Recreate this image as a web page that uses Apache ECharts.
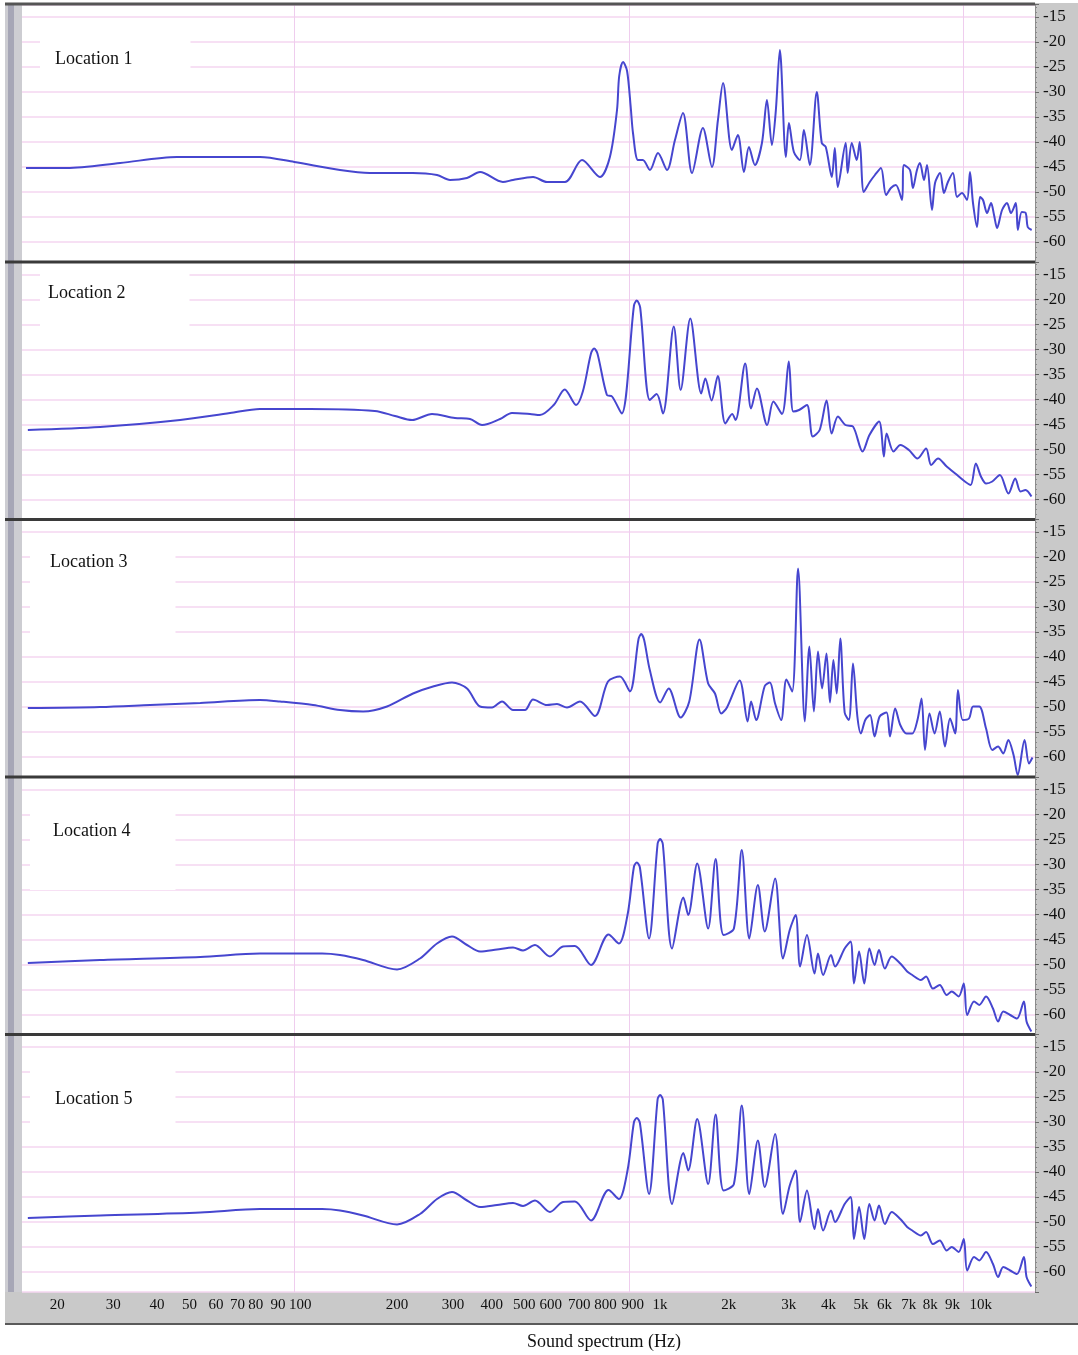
<!DOCTYPE html>
<html><head><meta charset="utf-8">
<script src="https://cdn.jsdelivr.net/npm/echarts@6/dist/echarts.min.js"></script>
<style>html,body{margin:0;padding:0;background:#fff}#c{width:1078px;height:1355px}</style>
</head><body><div id="c"></div>
<script>
// ---------------- DATA (frequency in Hz, level in dB) ----------------
const LOC1_FREQ=[15.8,20.9,30.2,44.6,79.0,100,137,168,226,267,292,328,359,420,450,517,569,644,724,819,877,921,935,960,987,1012,1028,1064,1100,1155,1221,1299,1372,1450,1543,1663,1770,1844,1910,2030,2115,2205,2282,2378,2496,2583,2673,2747,2823,2943,3005,3109,3240,3330,3469,3640,3767,3872,4035,4120,4205,4440,4500,4630,4790,4890,5030,5240,5430,5660,5860,6060,6270,6540,6630,6910,7050,7250,7400,7610,7770,8040,8210,8500,8730,8970,9290,9550,9880,10230,10440,10660,10960,11190,11420,11740,12070,12320,12580,13020,13470,13840,14310,14510,14910,15320,15530,15960];
const LOC1_DB=[-45.2,-45.2,-44.2,-43.0,-43.0,-44.0,-45.6,-46.2,-46.2,-46.6,-47.6,-47.2,-46.0,-48.0,-47.6,-47.0,-48.0,-48.0,-43.6,-47.0,-43.0,-33.6,-26.8,-24.0,-25.8,-33.0,-38.2,-43.6,-43.6,-45.6,-42.2,-45.6,-39.6,-34.2,-46.2,-37.2,-45.0,-35.6,-28.2,-41.6,-38.6,-46.0,-41.0,-44.6,-40.2,-31.6,-40.6,-33.6,-21.6,-43.0,-36.2,-42.0,-43.6,-37.6,-44.6,-30.0,-40.2,-41.0,-47.0,-41.2,-49.0,-40.2,-46.2,-40.2,-43.6,-40.0,-50.0,-48.0,-46.6,-45.2,-50.6,-49.2,-48.6,-51.6,-44.6,-45.6,-49.2,-45.6,-44.2,-47.6,-44.6,-53.6,-48.2,-46.2,-50.2,-48.0,-46.2,-51.0,-50.2,-51.6,-46.0,-52.2,-57.0,-51.0,-51.6,-54.2,-52.2,-54.6,-57.2,-53.6,-52.2,-54.2,-52.2,-57.6,-54.0,-54.2,-57.0,-57.6];

const LOC2_FREQ=[16.0,26.3,45.6,64.3,79.0,111.5,174,200,225,258,302,335,364,412,447,506,542,596,643,695,728,770,787,805,859,890,951,1035,1055,1080,1154,1210,1263,1361,1427,1525,1644,1691,1765,1842,1940,2034,2082,2224,2316,2411,2587,2700,2865,3002,3096,3222,3402,3541,3713,3893,4032,4208,4431,4669,4987,5229,5587,5774,5882,6169,6468,6858,7275,7719,7994,8383,8894,9435,10080,10490,10872,11260,11670,12171,12823,13604,14257,14776,15303,15936];
const LOC2_DB=[-46.1,-45.5,-44.1,-42.7,-41.9,-41.9,-42.3,-43.3,-44.1,-42.9,-43.7,-43.9,-45.1,-43.9,-42.7,-42.9,-43.1,-41.1,-38.0,-41.1,-38.4,-30.8,-29.8,-30.8,-39.1,-39.4,-42.8,-21.2,-20.2,-21.6,-40.1,-38.9,-42.8,-25.4,-38.1,-23.8,-38.8,-35.8,-40.2,-35.3,-44.8,-42.9,-44.1,-32.8,-41.8,-37.8,-45.1,-40.4,-42.9,-32.4,-42.4,-42.1,-41.1,-47.4,-46.1,-40.2,-46.8,-43.4,-45.1,-45.4,-50.4,-47.1,-44.4,-51.4,-46.8,-50.4,-49.1,-50.1,-51.8,-49.8,-53.1,-51.8,-53.4,-54.8,-56.4,-57.1,-52.8,-55.4,-56.8,-56.4,-55.1,-58.8,-55.8,-58.4,-58.1,-59.4];

const LOC3_FREQ=[16.0,26.3,37.1,52.4,79.0,90.7,113.8,137,160.6,189.3,226.4,259.8,296,328.2,358.9,389.8,417.5,450.4,489,516.8,569,609.5,652.9,713.9,791.5,865.6,940,1006,1068,1088,1110,1154,1239,1314,1427,1514,1625,1724,1807,1886,1962,2141,2261,2316,2399,2545,2636,2732,2849,2953,3073,3200,3353,3459,3568,3670,3775,3891,3985,4080,4176,4278,4409,4538,4669,4812,4929,5081,5251,5416,5609,5882,6021,6241,6464,6745,7020,7275,7484,7661,7901,8183,8481,8790,9104,9429,9612,9936,10368,10666,11129,11661,12171,12666,13126,13594,14090,14496,15199,15665,16047];
const LOC3_DB=[-50.2,-50.0,-49.6,-49.2,-48.6,-48.9,-49.6,-50.6,-50.9,-49.9,-47.3,-45.9,-45.1,-46.3,-49.9,-50.1,-48.9,-50.6,-50.6,-48.5,-49.6,-49.4,-50.1,-48.9,-51.8,-44.9,-43.9,-46.9,-36.4,-35.4,-36.6,-42.6,-49.1,-46.3,-52.1,-48.9,-36.5,-45.3,-47.3,-51.3,-50.1,-44.7,-52.9,-48.9,-52.6,-45.8,-45.1,-49.3,-52.6,-44.5,-46.9,-22.3,-52.9,-37.9,-50.9,-38.9,-46.3,-39.3,-49.1,-40.6,-47.3,-36.3,-51.1,-52.6,-41.3,-51.9,-55.3,-52.6,-51.6,-55.9,-51.9,-51.1,-55.9,-50.3,-53.6,-55.3,-55.3,-52.6,-48.3,-58.6,-51.3,-55.3,-50.9,-57.9,-52.3,-55.3,-46.6,-52.6,-52.3,-49.9,-49.9,-54.3,-58.6,-57.9,-59.3,-56.6,-59.6,-63.6,-56.6,-61.3,-60.1];

const LOC4_FREQ=[16.0,26.3,52.4,79.0,90.7,121.1,137,160.6,202.8,237.5,267,296,328.2,358.9,403.4,450.4,482.4,523.9,580.8,635.2,689.8,770,869,933,990,1035,1055,1078,1148,1218,1239,1262,1345,1454,1503,1599,1724,1815,1917,2058,2173,2288,2427,2545,2732,2885,3022,3148,3245,3402,3583,3670,3801,4013,4128,4409,4592,4701,4869,5046,5226,5416,5583,5814,6093,6464,6778,7020,7448,7719,8089,8481,8894,9210,9658,10004,10240,10738,11129,11661,12230,12666,13126,13765,14425,15126,15409,15926];
const LOC4_DB=[-49.7,-49.1,-48.5,-47.8,-47.8,-47.8,-48.1,-49.1,-51.0,-48.8,-45.8,-44.4,-46.1,-47.4,-47.0,-46.6,-47.2,-46.1,-48.4,-46.4,-46.3,-50.1,-44.0,-45.8,-40.1,-30.4,-29.6,-30.6,-44.8,-25.8,-24.9,-25.9,-46.8,-36.6,-40.1,-29.8,-42.8,-28.9,-44.1,-42.8,-27.1,-44.8,-34.1,-43.4,-32.8,-48.8,-43.1,-40.1,-50.4,-44.1,-51.8,-47.8,-52.1,-48.1,-50.4,-46.8,-45.4,-53.8,-47.4,-53.8,-46.8,-50.1,-47.1,-50.8,-48.4,-49.8,-51.4,-52.1,-53.1,-52.4,-54.8,-54.1,-56.1,-55.4,-56.4,-53.8,-60.1,-57.4,-58.1,-56.4,-58.8,-61.4,-59.4,-60.1,-60.8,-57.4,-61.4,-63.4];

const LOC5_FREQ=[16.0,26.3,52.4,79.0,90.7,121.1,137,160.6,202.8,237.5,267,296,328.2,358.9,403.4,450.4,482.4,523.9,580.8,635.2,689.8,770,869,933,990,1035,1055,1078,1148,1218,1239,1262,1345,1454,1503,1599,1724,1815,1917,2058,2173,2288,2427,2545,2732,2885,3022,3148,3245,3402,3583,3670,3801,4013,4128,4409,4592,4701,4869,5046,5226,5416,5583,5814,6093,6464,6778,7020,7448,7719,8089,8481,8894,9210,9658,10004,10240,10738,11129,11661,12230,12666,13126,13765,14425,15126,15409,15926];
const LOC5_DB=[-49.2,-48.7,-48.1,-47.4,-47.4,-47.4,-47.7,-48.7,-50.5,-48.4,-45.4,-44.0,-45.7,-47.0,-46.6,-46.2,-46.8,-45.7,-48.0,-46.0,-45.9,-49.7,-43.6,-45.4,-39.7,-30.0,-29.2,-30.2,-44.4,-25.4,-24.6,-25.5,-46.4,-36.2,-39.7,-29.4,-42.4,-28.5,-43.7,-42.4,-26.7,-44.4,-33.7,-43.0,-32.4,-48.4,-42.7,-39.7,-50.0,-43.7,-51.4,-47.4,-51.7,-47.7,-50.0,-46.4,-45.0,-53.4,-47.0,-53.4,-46.4,-49.7,-46.7,-50.4,-48.0,-49.4,-51.0,-51.7,-52.7,-52.0,-54.4,-53.7,-55.7,-55.0,-56.0,-53.4,-59.7,-57.0,-57.7,-56.0,-58.4,-61.0,-59.0,-59.7,-60.4,-57.0,-61.0,-62.9];

const LOCATION_NAMES=['Location 1','Location 2','Location 3','Location 4','Location 5'];
const X_TICK_VALUES=[20,30,40,50,60,70,80,90,100,200,300,400,500,600,700,800,900,1000,2000,3000,4000,5000,6000,7000,8000,9000,10000];
const X_TICK_LABELS=['20','30','40','50','60','70','80','90','100','200','300','400','500','600','700','800','900','1k','2k','3k','4k','5k','6k','7k','8k','9k','10k'];
const X_GRID_VALUES=[100,1000,10000];
const X_TITLE='Sound spectrum (Hz)';
const F_MIN=15.37, F_MAX=16330, DB_MIN=-64, DB_MAX=-12.5;

// ---------------- STYLE / LAYOUT ----------------
const SERIF="'Liberation Serif','Times New Roman',serif";
const LINE_COLOR='#4646cf';
const GRID_PINK='#f4d6f0';
const VLINE_PINK='#efcdee';
const BAND='#c9c9c9';
const PLOT_L=22, PLOT_W=1013, PANEL_TOP=4.5, PANEL_H=257.5;
// horizontal nudge of x tick texts (px), as typeset in the original figure
const X_LABEL_SHIFT={20:-3,30:-6,40:-4,50:-4,60:-4,70:-5,80:-6,90:-1,100:6,200:2,300:-1,400:-4,500:-4,600:-4,700:2,800:9,900:19,1000:31,2000:-1,3000:0,4000:-2,5000:-2,6000:-5,7000:-3,8000:-1,9000:4,10000:17};
const LOC_BOX=[
  {left:40,top:28,padding:[22,58,22,15]},
  {left:40,top:265,padding:[19,64,40,8]},
  {left:30,top:540,padding:[13,48,64,20]},
  {left:30,top:805,padding:[17,45,50,23]},
  {left:30,top:1058,padding:[32,43,32,25]}
];

const FREQS=[LOC1_FREQ,LOC2_FREQ,LOC3_FREQ,LOC4_FREQ,LOC5_FREQ];
const DBS=[LOC1_DB,LOC2_DB,LOC3_DB,LOC4_DB,LOC5_DB];

const rich={};
X_TICK_VALUES.forEach((v,i)=>{
  const s=X_LABEL_SHIFT[v]||0;
  rich['t'+i]={fontFamily:SERIF,fontSize:15,color:'#111',
    padding:s>=0?[0,0,0,2*s]:[0,-2*s,0,0]};
});
function xLabel(val){
  for(let i=0;i<X_TICK_VALUES.length;i++){
    if(Math.abs(val-X_TICK_VALUES[i])/X_TICK_VALUES[i]<0.01) return '{t'+i+'|'+X_TICK_LABELS[i]+'}';
  }
  return '';
}

const grids=[],xAxes=[],yAxes=[],series=[],titles=[];
for(let i=0;i<5;i++){
  grids.push({left:PLOT_L,width:PLOT_W,top:PANEL_TOP+PANEL_H*i,height:PANEL_H,containLabel:false});
  xAxes.push({
    type:'log',logBase:10,gridIndex:i,min:F_MIN,max:F_MAX,
    axisLine:{show:false},axisTick:{show:false},splitLine:{show:false},
    axisLabel: i===4 ? {show:true,customValues:X_TICK_VALUES,formatter:xLabel,rich:rich,
      margin:6,hideOverlap:false,fontFamily:SERIF,fontSize:15,color:'#111'} : {show:false}
  });
  yAxes.push({
    type:'value',gridIndex:i,position:'right',min:DB_MIN,max:DB_MAX,splitNumber:10,
    axisLine:{show:true,lineStyle:{color:'#8c8c8c',width:1}},
    axisTick:{show:true,length:4,lineStyle:{color:'#6a6a6a'}},
    minorTick:{show:true,splitNumber:5,length:2,lineStyle:{color:'#8a8a8a'}},
    axisLabel:{showMinLabel:false,showMaxLabel:false,margin:8,fontFamily:SERIF,fontSize:17,color:'#111'},
    splitLine:{show:true,lineStyle:{color:GRID_PINK,width:1.6}}
  });
  series.push({
    type:'line',xAxisIndex:i,yAxisIndex:i,
    data:FREQS[i].map((f,k)=>[f,DBS[i][k]]),
    showSymbol:false,symbol:'none',smooth:0.3,z:3,
    lineStyle:{color:LINE_COLOR,width:2},
    markLine:{silent:true,z:1,symbol:['none','none'],label:{show:false},
      lineStyle:{color:VLINE_PINK,width:1,type:'solid'},
      data:X_GRID_VALUES.map(v=>({xAxis:v}))}
  });
  titles.push({text:LOCATION_NAMES[i],left:LOC_BOX[i].left,top:LOC_BOX[i].top,
    padding:LOC_BOX[i].padding,backgroundColor:'#ffffff',
    textStyle:{fontFamily:SERIF,fontSize:18,fontWeight:'normal',color:'#111'}});
}
titles.push({text:X_TITLE,left:527,top:1333,padding:0,
  textStyle:{fontFamily:SERIF,fontSize:18,fontWeight:'normal',color:'#111'}});

// frame decoration (gray rulers and panel separators)
const frame=[
  {type:'rect',z:-1,shape:{x:5,y:3,width:17,height:1322},style:{fill:'#cdcdd2'}},
  {type:'rect',z:-1,shape:{x:8,y:3,width:6,height:1322},style:{fill:'#a6a6b6'}},
  {type:'rect',z:-1,shape:{x:1035,y:3,width:43,height:1322},style:{fill:BAND}},
  {type:'rect',z:-1,shape:{x:5,y:1292,width:1073,height:33},style:{fill:BAND}},
  {type:'rect',z:20,shape:{x:5,y:1323,width:1073,height:2},style:{fill:'#5a5a5a'}},
  {type:'rect',z:20,shape:{x:5,y:2.5,width:1030,height:3},style:{fill:'#555'}}
];
for(let i=1;i<5;i++){
  frame.push({type:'rect',z:20,shape:{x:5,y:PANEL_TOP+PANEL_H*i-1.5,width:1030,height:3},style:{fill:'#3a3a3a'}});
}

const chart=echarts.init(document.getElementById('c'),null,{renderer:'canvas'});
chart.setOption({
  animation:false,backgroundColor:'#ffffff',
  title:titles,grid:grids,xAxis:xAxes,yAxis:yAxes,series:series,
  graphic:{elements:frame}
});
</script></body></html>
